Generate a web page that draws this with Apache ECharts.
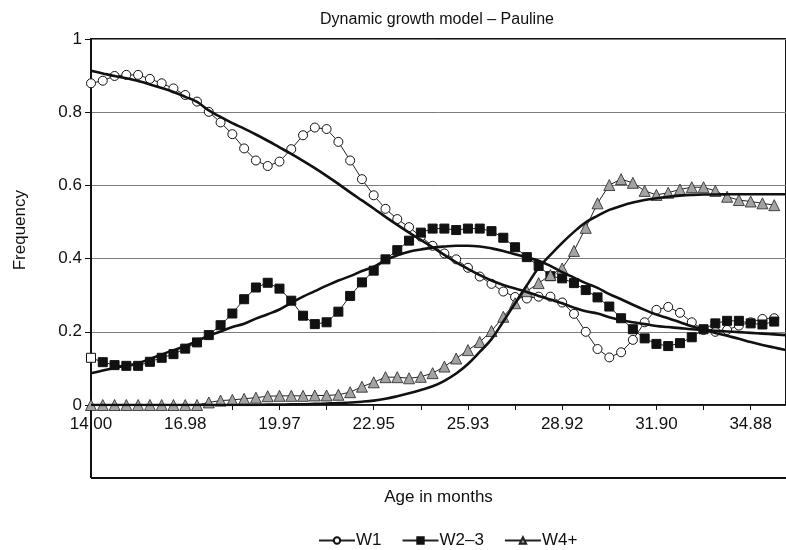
<!DOCTYPE html>
<html><head><meta charset="utf-8">
<script src="https://cdn.jsdelivr.net/npm/echarts@6/dist/echarts.min.js"></script>
<style>html,body{margin:0;padding:0;background:#fff}#c{width:786px;height:550px}</style>
</head><body><div id="c"></div><script>
// Age in months (category positions); every 8th is labelled
const ages = ['14.00','14.37','14.75','15.12','15.49','15.86','16.24','16.61','16.98','17.36',
  '17.73','18.10','18.47','18.85','19.22','19.59','19.97','20.34','20.71','21.08',
  '21.46','21.83','22.20','22.58','22.95','23.32','23.69','24.07','24.44','24.81',
  '25.19','25.56','25.93','26.30','26.68','27.05','27.42','27.80','28.17','28.54',
  '28.92','29.29','29.66','30.03','30.41','30.78','31.15','31.52','31.90','32.27',
  '32.64','33.02','33.39','33.76','34.13','34.51','34.88','35.25','35.63','36.00'];
const xTickLabels = ['14.00','16.98','19.97','22.95','25.93','28.92','31.90','34.88'];
const yTickLabels = ['0','0.2','0.4','0.6','0.8','1'];

// observed frequencies
const w1 = [0.879,0.886,0.899,0.902,0.902,0.891,0.879,0.865,0.847,0.829,
  0.801,0.772,0.740,0.701,0.668,0.653,0.665,0.699,0.737,0.758,
  0.754,0.719,0.668,0.617,0.573,0.536,0.508,0.486,0.460,0.435,
  0.414,0.398,0.375,0.351,0.331,0.310,0.295,0.291,0.296,0.296,
  0.280,0.249,0.200,0.153,0.130,0.144,0.178,0.226,0.260,0.268,
  0.252,0.226,0.205,0.200,0.205,0.217,0.226,0.235,0.237];
const w23 = [0.129,0.117,0.109,0.107,0.107,0.118,0.129,0.139,0.154,0.171,
  0.191,0.218,0.250,0.289,0.321,0.334,0.318,0.285,0.244,0.221,
  0.226,0.255,0.298,0.335,0.367,0.398,0.423,0.449,0.471,0.482,
  0.482,0.478,0.482,0.482,0.475,0.457,0.431,0.404,0.380,0.352,
  0.346,0.333,0.314,0.294,0.269,0.237,0.207,0.182,0.167,0.161,
  0.169,0.185,0.207,0.223,0.230,0.230,0.223,0.220,0.228];
const w4 = [0.000,0.000,0.000,0.000,0.000,0.000,0.000,0.000,0.000,0.000,
  0.007,0.012,0.014,0.017,0.020,0.024,0.025,0.025,0.025,0.026,
  0.026,0.028,0.035,0.050,0.062,0.076,0.076,0.073,0.077,0.087,
  0.105,0.127,0.150,0.172,0.202,0.241,0.278,0.311,0.333,0.355,
  0.373,0.421,0.484,0.551,0.601,0.617,0.607,0.585,0.574,0.580,
  0.589,0.595,0.595,0.585,0.569,0.560,0.556,0.551,0.546];

// model fits
const fitW1 = [0.913,0.906,0.899,0.893,0.885,0.876,0.866,0.855,0.842,0.828,
  0.805,0.787,0.770,0.755,0.739,0.722,0.704,0.686,0.667,0.647,
  0.626,0.604,0.581,0.559,0.537,0.514,0.492,0.471,0.451,0.431,
  0.410,0.390,0.372,0.355,0.340,0.328,0.318,0.309,0.298,0.288,
  0.278,0.266,0.256,0.250,0.240,0.232,0.226,0.221,0.216,0.213,
  0.210,0.207,0.205,0.203,0.201,0.199,0.197,0.195,0.193,0.191];
const fitW23 = [0.087,0.094,0.101,0.108,0.114,0.126,0.138,0.150,0.161,0.175,
  0.189,0.201,0.213,0.222,0.236,0.248,0.261,0.279,0.296,0.311,
  0.326,0.340,0.352,0.366,0.378,0.396,0.409,0.419,0.425,0.430,
  0.433,0.435,0.435,0.433,0.428,0.421,0.412,0.403,0.394,0.380,
  0.363,0.348,0.333,0.320,0.303,0.289,0.274,0.260,0.247,0.237,
  0.226,0.215,0.206,0.197,0.189,0.181,0.172,0.164,0.157,0.150];
const fitW4 = [0.000,0.000,0.000,0.000,0.000,0.000,0.000,0.000,0.000,0.000,
  0.000,0.000,0.000,0.000,0.000,0.001,0.001,0.002,0.002,0.003,
  0.004,0.005,0.007,0.009,0.012,0.017,0.024,0.032,0.041,0.051,
  0.066,0.086,0.112,0.145,0.180,0.228,0.278,0.327,0.375,0.410,
  0.443,0.473,0.499,0.517,0.533,0.544,0.553,0.560,0.565,0.569,
  0.572,0.574,0.575,0.575,0.576,0.576,0.576,0.576,0.576,0.576];

const FONT = '"Liberation Sans", Arial, Helvetica, sans-serif';
const chart = echarts.init(document.getElementById('c'), null, {renderer: 'canvas'});

const w23Data = w23.map((v, i) => i === 0
  ? {value: v, itemStyle: {color: '#ffffff', borderColor: '#111', borderWidth: 1}}
  : v);

const fitStyle = (name, data) => ({
  name, type: 'line', data, smooth: 0.4, showSymbol: false, symbol: 'none',
  lineStyle: {color: '#111', width: 2.6}, z: 4, silent: true
});

// plot frame geometry
const L = 91, T = 39, AX = 405, FB = 478, W = 786;

chart.setOption({
  animation: false,
  backgroundColor: '#ffffff',
  textStyle: {fontFamily: FONT},
  title: {
    text: 'Dynamic growth model \u2013 Pauline',
    left: 432, top: 7, textAlign: 'center',
    textStyle: {fontSize: 16, fontWeight: 'normal', color: '#111', fontFamily: FONT}
  },
  grid: {
    left: L, top: T, right: 0, bottom: 550 - AX,
    outerBoundsMode: 'none', containLabel: false,
    show: true, borderColor: '#111', borderWidth: 2, backgroundColor: 'transparent'
  },
  legend: {
    data: ['W1', 'W2\u20133', 'W4+'],
    left: 313, top: 527,
    itemWidth: 36, itemHeight: 8, itemGap: 20,
    textStyle: {fontSize: 17, color: '#111', fontFamily: FONT, padding: [0, 0, 0, -4]}
  },
  xAxis: {
    type: 'category', data: ages, boundaryGap: false,
    name: 'Age in months', nameLocation: 'middle', nameGap: 84,
    nameTextStyle: {fontSize: 17, color: '#111', fontFamily: FONT},
    axisLine: {onZero: false, lineStyle: {color: '#111', width: 1.5}},
    axisTick: {show: true, interval: 3, length: 5, lineStyle: {color: '#111'}},
    axisLabel: {
      interval: 7, margin: 11, fontSize: 17, color: '#111', fontFamily: FONT,
      formatter: (v, i) => xTickLabels[i / 8] !== undefined ? xTickLabels[i / 8] : v
    },
    splitLine: {show: false}
  },
  yAxis: {
    type: 'value', min: 0, max: 1, interval: 0.2,
    axisLine: {show: true, lineStyle: {color: '#111', width: 2}},
    axisTick: {show: true, length: 6, lineStyle: {color: '#111'}},
    axisLabel: {
      fontSize: 17, color: '#111', fontFamily: FONT, margin: 9,
      formatter: v => yTickLabels[Math.round(v / 0.2)]
    },
    splitLine: {show: true, lineStyle: {color: '#7d7d7d', width: 1}}
  },
  graphic: [
    {type: 'text', left: 12, top: 190, rotation: Math.PI / 2,
      style: {text: 'Frequency', font: '17px ' + FONT, fill: '#111'}},
    {type: 'line', silent: true, shape: {x1: L, y1: AX, x2: L, y2: FB},
      style: {stroke: '#111', lineWidth: 2}},
    {type: 'line', silent: true, shape: {x1: L, y1: FB, x2: W, y2: FB},
      style: {stroke: '#111', lineWidth: 2}}
  ],
  series: [
    {
      name: 'W1', type: 'line', data: w1, symbol: 'circle', symbolSize: 9,
      showAllSymbol: true,
      lineStyle: {color: '#222', width: 1},
      itemStyle: {color: '#ffffff', borderColor: '#111', borderWidth: 1}, z: 3
    },
    {
      name: 'W2\u20133', type: 'line', data: w23Data, symbol: 'rect', symbolSize: 9,
      showAllSymbol: true,
      lineStyle: {color: '#222', width: 1},
      itemStyle: {color: '#111', borderColor: '#111', borderWidth: 1}, z: 3
    },
    {
      name: 'W4+', type: 'line', data: w4, symbol: 'triangle', symbolSize: 11,
      showAllSymbol: true,
      lineStyle: {color: '#222', width: 1},
      itemStyle: {color: '#a3a3a3', borderColor: '#222', borderWidth: 0.8}, z: 3
    },
    fitStyle('fit W1', fitW1),
    fitStyle('fit W2\u20133', fitW23),
    fitStyle('fit W4+', fitW4)
  ]
});
</script></body></html>
